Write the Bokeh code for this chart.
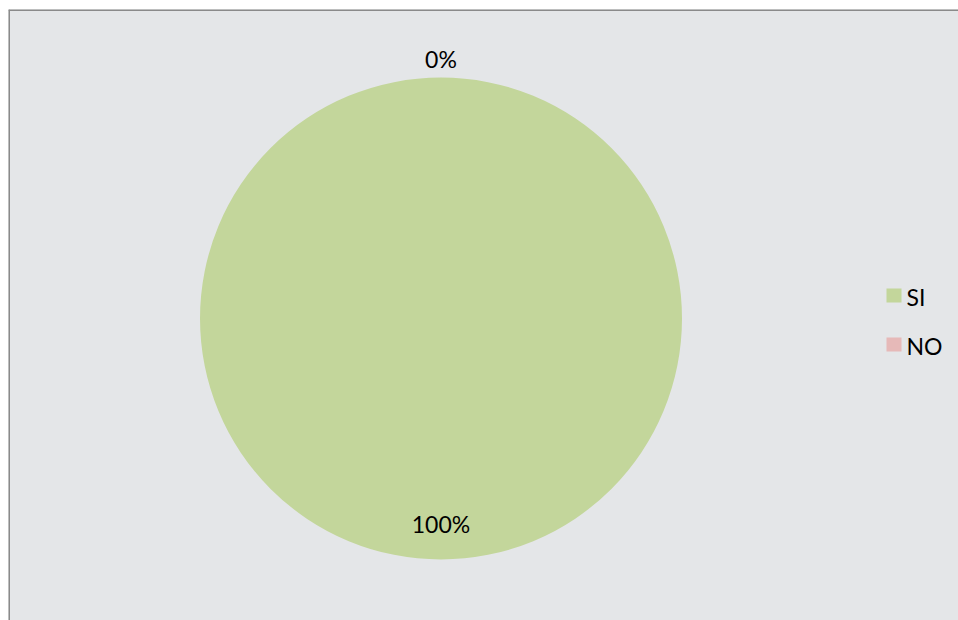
import math
from bokeh.plotting import figure
from bokeh.models import Range1d, Span
from bokeh.core.properties import value
from bokeh.embed import file_html
from bokeh.resources import INLINE

categories = ["SI", "NO"]
values = [100, 0]
colors = ["#C3D69B", "#E6B9B8"]

W, H = 958, 620
LEFT, TOP = 8, 9
FW, FH = W - LEFT, H - TOP
FONT = "Lato"

p = figure(width=W, height=H, output_backend="svg", toolbar_location=None,
           x_range=Range1d(0, FW), y_range=Range1d(0, FH),
           min_border_left=LEFT, min_border_top=TOP, min_border_right=0, min_border_bottom=0)
p.axis.visible = False
p.grid.visible = False
p.background_fill_color = "#e4e6e8"
p.border_fill_color = "#ffffff"
p.outline_line_color = None

# chart-area border (only left and top edges fall inside the picture)
p.add_layout(Span(location=0.5, dimension="height", line_color="#8a8a8a", line_width=2))
p.add_layout(Span(location=FH - 0.5, dimension="width", line_color="#8a8a8a", line_width=2))


def px(x):
    return x - LEFT


def py(y):
    return FH - (y - TOP)


cx, cy, r = px(440.5), py(318), 241.0
total = sum(values)
start = math.pi / 2
starts, ends, mids = [], [], []
for v in values:
    span = 2 * math.pi * v / total
    starts.append(start)
    ends.append(start - span)
    mids.append(start - span / 2)
    start -= span

for i, v in enumerate(values):
    if v <= 0:
        continue
    if abs(v - total) < 1e-9:
        p.scatter(x=[cx], y=[cy], size=2 * r, fill_color=colors[i], line_color=None)
    else:
        p.wedge(x=cx, y=cy, radius=r, start_angle=starts[i], end_angle=ends[i],
                direction="clock", fill_color=colors[i], line_color=None)

# data labels
lx, ly, lt = [], [], []
for i, v in enumerate(values):
    frac = v / total
    d = r * 0.85 if frac > 0.05 else r + 20
    lx.append(cx + d * math.cos(mids[i]))
    ly.append(cy + d * math.sin(mids[i]) - 1)
    lt.append(f"{round(frac * 100)}%")
p.text(x=lx, y=ly, text=lt, text_align="center", text_baseline="middle",
       text_font=value(FONT), text_font_size="23px", text_color="#000000")

# legend
ys = [py(295), py(344)]
p.rect(x=[px(893.5)] * 2, y=ys, width=15, height=14, fill_color=colors, line_color=None)
p.text(x=[px(906)] * 2, y=[y - 1 for y in ys], text=categories, text_baseline="middle",
       text_font=value(FONT), text_font_size="23px", text_color="#000000")

open("out.html", "w").write(file_html(p, INLINE))
